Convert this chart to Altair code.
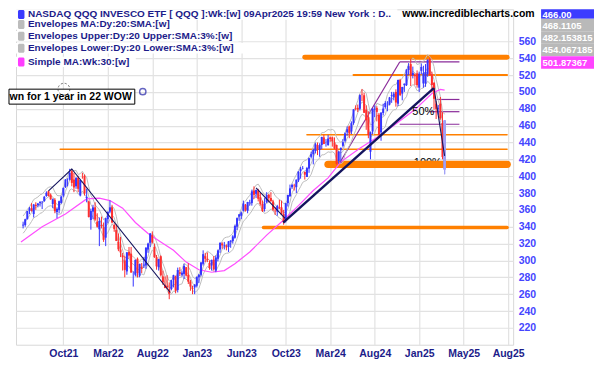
import altair as alt
import pandas as pd

# ---------------- data (weekly QQQ candles, week index 1..200) ----------------
weeks = list(range(1, 201))
opens = [
    341.5, 342, 349, 359, 362, 355, 366, 365.5, 368, 369,
    370.5, 376.5, 382, 378, 367, 372, 357.5, 360, 368, 377,
    387, 395.5, 396, 406, 396, 388, 398, 377, 398, 400.5,
    374, 370, 348, 358, 363, 346, 337, 342, 339, 327,
    349, 358, 363, 342, 336, 322, 313, 306, 300, 287,
    310, 308, 281, 283, 302, 282, 292, 294, 294, 313,
    321, 330, 316, 304, 292, 305, 281, 271, 270, 266,
    266, 277, 281, 265, 286, 283, 284, 292, 283, 275,
    267, 268, 270, 280, 283, 296, 305, 302, 297, 294,
    301, 288, 302, 313, 320, 317, 317, 316, 322, 323,
    327, 340, 352, 353, 359, 366, 359, 368, 368, 383,
    379, 383, 375, 367, 361, 369, 378, 374, 370, 359,
    358, 363, 363, 355, 347, 368, 376, 387, 389, 387,
    395, 406, 409, 405, 399, 409, 423, 426, 430, 437,
    431, 437, 446, 439, 437, 446, 446, 440, 437, 418,
    431, 436, 442, 452, 459, 453, 463, 481, 481, 480,
    497, 496, 479, 470, 429, 453, 479, 481, 473, 452,
    475, 482, 487, 485, 495, 494, 500, 486, 514, 498,
    508, 508, 526, 533, 520, 520, 522, 505, 525, 510,
    510, 521, 539, 521, 511, 486, 480, 486, 463, 408,
]
highs = [
    346, 349.5, 358.8, 363.5, 368, 367, 369, 368.2, 370.5, 370.5,
    376.5, 382, 382.8, 379.5, 373.5, 374, 363, 371, 377, 386.5,
    396.5, 397.5, 408.7, 408.2, 404, 399, 400.5, 396, 404, 402,
    385, 371, 361.5, 366, 369, 356, 351, 352, 345, 350.5,
    358, 371.3, 366, 344, 343, 332, 328, 309, 305, 310,
    316, 316, 287, 301, 303.5, 296, 297, 304, 315.5, 321,
    332.5, 334.5, 320, 306.5, 302, 306, 288, 281, 282.5, 274,
    277, 283, 282, 291.5, 292, 288, 296, 292, 296.7, 277,
    270, 272, 281, 284, 298, 312, 309, 309.5, 300, 301,
    305, 306, 313, 321.5, 321.5, 322, 319, 323, 324, 330,
    342.5, 351, 355, 358, 371, 367, 369.5, 372, 384, 387.9,
    384, 385, 380, 371, 374, 381, 379, 381, 372, 363,
    366, 372, 371, 360, 368, 378, 390, 391, 391, 396,
    406, 411, 412, 405.5, 411, 422, 429, 432.5, 439.8, 440,
    439, 446.6, 449.3, 444, 449, 447, 447, 446, 437.5, 430,
    434, 444, 452, 459, 460, 465, 479.5, 484, 485, 497,
    503.5, 499, 484, 477, 453, 480.5, 484, 483, 475, 476,
    486, 489, 489, 494, 500, 500, 503, 514.5, 515.5, 506,
    510, 526.8, 534, 539.2, 530, 522, 525.5, 524, 533.8, 531,
    533, 538.5, 540.8, 524, 511, 489, 484.5, 494, 476, 466.6,
]
lows = [
    338, 340, 348.5, 355, 358, 351, 360, 363, 364, 361,
    369.5, 375.5, 376, 372, 362, 356, 350, 356, 367.5, 375,
    386, 388, 395, 388, 381, 385, 381, 376, 397, 377,
    369, 351, 336.5, 349, 347, 339, 317, 338, 322, 317,
    344, 356, 344, 334, 323, 311, 304, 288, 280, 283,
    302, 286, 269, 281, 280, 280, 285, 291, 290, 309,
    316, 320, 303, 289, 288, 281, 271, 267, 266, 254,
    264.5, 268, 261, 262, 281.5, 281, 278, 281, 272, 264,
    260, 260, 268, 273, 281, 294, 298, 298, 289, 288,
    288, 286, 299, 309, 314, 313, 312, 310, 315, 320,
    326, 336, 347, 349, 358, 358, 356, 365, 365, 373,
    374, 370, 365, 357.5, 358, 368, 369, 369, 358.5, 354,
    353, 361, 354, 342.4, 345, 364, 376, 385, 383, 380,
    393, 397, 408, 396, 399, 404, 421, 414, 427, 425,
    423, 432, 438, 435, 436, 441, 435, 432, 413.5, 415,
    416, 434, 440, 448, 445, 450, 461, 478, 476, 478,
    489, 475, 455, 445, 420, 450, 470, 465, 448, 442,
    472, 480, 477, 484, 487, 490, 482.5, 483, 495, 490,
    500, 507, 520, 507, 516, 508, 505, 499.7, 521, 505,
    506, 518, 519, 499.7, 479, 467.8, 473, 467, 420, 402.4,
]
closes = [
    342.5, 348.9, 358.6, 361.8, 358.9, 366.3, 364.6, 367.5, 369.3, 369.6,
    375.5, 380.2, 376.6, 372.5, 372.6, 358.6, 361.3, 370.3, 375.8, 386.1,
    396, 395.5, 403.9, 392, 386.6, 397.8, 385, 395.5, 397.9, 379.6,
    375.5, 351.5, 358.7, 362.8, 348.5, 340, 346.8, 340.8, 324.5, 350,
    357.8, 363, 345, 337.5, 323.2, 313.2, 309.5, 303.7, 288.8, 309.6,
    305.8, 285.5, 281, 300.7, 285, 296, 290, 295, 315.2, 320,
    332, 321.5, 304, 293, 301.5, 282.5, 274, 267.3, 268, 260.5,
    276.5, 282.5, 264, 288.7, 284.2, 285.5, 293.5, 282, 274.8, 269,
    266.3, 271, 280.5, 283, 297.6, 307.5, 302, 300.8, 291, 300.6,
    289.5, 303.5, 311.9, 320.9, 317.9, 317.8, 315.5, 322.6, 323.6, 328.5,
    340.9, 350.2, 354.7, 356.9, 367.6, 359.3, 369.4, 368.6, 381.9, 377.9,
    383.7, 373.2, 367, 358.6, 367.5, 377.6, 373.9, 370.6, 360.3, 358.3,
    364.7, 362, 354.6, 345.5, 367.9, 377.7, 385.5, 389.5, 388.6, 395.9,
    405.3, 408.4, 409.5, 401.8, 409.6, 421.3, 426.1, 431.1, 437.9, 432.7,
    436.6, 446.6, 438.3, 439, 444.7, 444, 441.3, 432.7, 414.6, 429,
    433.6, 440.3, 450.7, 455.7, 450.7, 462.9, 479.2, 480.2, 479.1, 496.2,
    496.7, 475.2, 466.4, 448.8, 452.1, 480.2, 480, 476.3, 448.7, 475.3,
    480.2, 486.8, 487.3, 493.4, 496, 498, 487.4, 514.1, 496.2, 505.8,
    509.7, 526.5, 530.5, 518.7, 522.6, 518.6, 508, 521.7, 529.6, 522.3,
    523.6, 538.2, 519.9, 508.2, 491.8, 479.8, 480.8, 468.9, 422.7, 466,
]

# 30-week simple moving average
sma_weeks = [0, 10, 21, 31, 37, 42, 48, 54, 60, 66, 72, 78, 84, 90, 96, 101, 108,
             116, 124, 131, 138, 145, 151, 160, 168, 176, 186, 194, 198, 200]
sma_values = [322, 340, 355, 373, 374, 371, 362, 345, 332, 322, 312, 298, 289, 286, 288,
              296, 310, 330, 348, 365, 383, 398, 417, 433, 446, 460, 479, 498, 503, 502]

x_tick_weeks = [20, 41, 62, 83, 104, 125, 146, 167, 188, 209, 230]
x_tick_labels = ["Oct21", "Mar22", "Aug22", "Jan23", "Jun23", "Oct23",
                 "Mar24", "Aug24", "Jan25", "May25", "Aug25"]
y_tick_values = [220, 240, 260, 280, 300, 320, 340, 360, 380, 400,
                 420, 440, 460, 480, 500, 520, 540, 560]

orange_levels = [541, 520, 449, 432, 414, 339]
orange_from = [134, 157, 135, 18.5, 145, 114.5]
orange_to = [229.5, 229.5, 229.5, 229.5, 229.5, 229.5]

purple_levels = [535.5, 491, 476.5, 461.6]
purple_from = [178.8, 196.3, 192.6, 178.8]
purple_to = [207, 207, 207, 207]

zigzag_seg = ["a", "a", "a", "b", "b", "c", "c"]
zigzag_w = [13, 24, 70.5, 111, 124.7, 195, 200]
zigzag_v = [382.5, 408.5, 262, 386, 350, 504.5, 424]
trend_w = [123.8, 194.9]
trend_v = [345, 504.5]
fib_diag_w = [151, 178.8]
fib_diag_v = [418, 535.5]

legend_labels = [
    "NASDAQ QQQ INVESCO ETF [ QQQ ]:Wk:[w]  09Apr2025 19:59 New York : D..",
    "Envelopes MA:Dy:20:SMA:[w]",
    "Envelopes Upper:Dy:20 Upper:SMA:3%:[w]",
    "Envelopes Lower:Dy:20 Lower:SMA:3%:[w]",
    "Simple MA:Wk:30:[w]",
]
value_labels = ["466.00", "468.1105", "482.153815", "454.067185", "501.87367"]
site_label = "www.incrediblecharts.com"
wow_label = "wn for 1 year in 22 WOW"
fib_labels = ["50%", "100%"]

# ---------------- styling ----------------
FONT = "Liberation Sans"
BLUE = "#3434ff"
RED = "#ff2e2e"
LIVE = "#a3a3f5"
ORANGE = "#ff8000"
PURPLE = "#8a2b9a"
NAVY = "#14145e"
GREY = "#bdbdbd"
PINK = "#ff4dff"
TEXT_NAVY = "#1c1c8a"
VX, VY = 15, 8  # page position of the plot's top-left corner


def px(x):
    return x - VX


def py(y):
    return y - VY


xs = alt.Scale(domain=[0, 230], nice=False, zero=False)
ys = alt.Scale(domain=[200, 598], nice=False, zero=False)
label_expr = "[" + ",".join("'%s'" % s for s in x_tick_labels) + "][round((datum.value-20)/21)]"
xaxis = alt.Axis(values=x_tick_weeks, labelExpr=label_expr, title=None, grid=True, ticks=False,
                 domain=False, labelPadding=4, labelFont=FONT, labelFontSize=10.5,
                 labelFontWeight="bold", labelColor=TEXT_NAVY, gridColor="#e2e2e2",
                 gridWidth=1.2, labelFlush=False, labelOverlap=False)
yaxis = alt.Axis(orient="right", values=y_tick_values, title=None, grid=True, ticks=False,
                 domain=False, labelPadding=5, labelFont=FONT, labelFontSize=10.5,
                 labelFontWeight="bold", labelColor="#4545ff", gridColor="#e2e2e2",
                 gridWidth=1.2, labelAlign="left", labelBaseline="middle")


def X(field):
    return alt.X(field, type="quantitative", scale=xs, axis=xaxis)


def Y(field):
    return alt.Y(field, type="quantitative", scale=ys, axis=yaxis)


candles = pd.DataFrame({"w": weeks, "open": opens, "high": highs, "low": lows, "close": closes})
sma = pd.DataFrame({"w": sma_weeks, "v": sma_values})
orange = pd.DataFrame({"level": orange_levels, "from": orange_from, "to": orange_to})
purple = pd.DataFrame({"level": purple_levels, "from": purple_from, "to": purple_to})
zigzag = pd.DataFrame({"seg": zigzag_seg, "w": zigzag_w, "v": zigzag_v})
trend = pd.DataFrame({"w": trend_w, "v": trend_v})
fibd = pd.DataFrame({"w": fib_diag_w, "v": fib_diag_v})
one = pd.DataFrame({"k": [0]})

layers = []


def text_layer(label, x, y, size=10, color="black", weight="bold", align="left"):
    return alt.Chart(pd.DataFrame({"t": [label]})).mark_text(
        font=FONT, fontSize=size, fontWeight=weight, color=color, align=align, baseline="middle"
    ).encode(x=alt.value(px(x)), y=alt.value(py(y)), text="t:N")


def rect_layer(x1, x2, y1, y2, fill, stroke=None, radius=0):
    kw = dict(fill=fill, cornerRadius=radius)
    if stroke:
        kw.update(stroke=stroke, strokeWidth=1)
    return alt.Chart(one).mark_rect(**kw).encode(
        x=alt.value(px(x1)), x2=alt.value(px(x2)), y=alt.value(py(y1)), y2=alt.value(py(y2)))


# base grid / axes carrier
layers.append(alt.Chart(candles).mark_point(opacity=0).encode(x=X("w"), y=Y("close")))

# "100%" text, partly hidden by the orange band
layers.append(text_layer(fib_labels[1], 413.5, 162, size=11, weight="normal"))

# orange support / resistance lines
ORANGE_WIDTHS = [5, 2, 1.5, 1.5, 7.5, 3.5]
for i, wdt in enumerate(ORANGE_WIDTHS):
    layers.append(
        alt.Chart(orange.iloc[[i]]).mark_rule(color=ORANGE, strokeWidth=wdt, strokeCap="round")
        .encode(x=X("from"), x2="to:Q", y=Y("level"))
    )

# purple fib levels and diagonal
layers.append(alt.Chart(purple).mark_rule(color=PURPLE, strokeWidth=1.2)
              .encode(x=X("from"), x2="to:Q", y=Y("level")))
layers.append(alt.Chart(fibd).mark_line(color=PURPLE, strokeWidth=1.2)
              .encode(x=X("w"), y=Y("v")))

# envelopes (20-day SMA = 4 weeks, +/-3%)
env = alt.Chart(candles).transform_window(
    ma="mean(close)", frame=[-3, 0], sort=[alt.SortField("w")]
).transform_calculate(up="datum.ma*1.03", lo="datum.ma*0.97")
for f in ["ma", "up", "lo"]:
    layers.append(env.mark_line(color=GREY, strokeWidth=1).encode(x=X("w"), y=Y(f)))

# 30 week SMA
layers.append(alt.Chart(sma).mark_line(color=PINK, strokeWidth=1.2).encode(x=X("w"), y=Y("v")))

# candles
col = alt.condition(alt.datum.close >= alt.datum.open, alt.value(BLUE), alt.value(RED))
layers.append(alt.Chart(candles).mark_rule(strokeWidth=1).encode(x=X("w"), y=Y("low"), y2="high:Q", color=col))
layers.append(alt.Chart(candles).mark_bar(size=2).encode(x=X("w"), y=Y("open"), y2="close:Q", color=col))
live = alt.Chart(candles).transform_filter("datum.w == 200")
layers.append(live.mark_rule(strokeWidth=1.2, color=LIVE).encode(x=X("w"), y=Y("low"), y2="high:Q"))
layers.append(live.mark_bar(size=2.6, color=LIVE).encode(x=X("w"), y=Y("open"), y2="close:Q"))

# navy trend and zigzag lines
layers.append(alt.Chart(zigzag).mark_line(color=NAVY, strokeWidth=1.1)
              .encode(x=X("w"), y=Y("v"), detail="seg:N"))
layers.append(alt.Chart(trend).mark_line(color=NAVY, strokeWidth=2.4).encode(x=X("w"), y=Y("v")))

layers.append(text_layer(fib_labels[0], 412, 111, size=11, weight="normal"))

# header legend
row_y = [13.2, 23.2, 35, 47, 60.7]
row_end = [397, 177, 238, 243, 135]
sq_col = ["#3a3aff", "#bcbcbc", "#bcbcbc", "#bcbcbc", "#ff3cff"]
for i, lab in enumerate(legend_labels):
    layers.append(rect_layer(15, row_end[i], row_y[i] - 5.2, row_y[i] + 5.2, "white"))
for i, lab in enumerate(legend_labels):
    layers.append(rect_layer(17, 23.5, row_y[i] - 4.5, row_y[i] + 4.5, sq_col[i], radius=1.5))
    layers.append(text_layer(lab, 27, row_y[i], size=10, color=TEXT_NAVY))

layers.append(text_layer(site_label, 402, 13.2, size=10.5, color="black"))

# value boxes
box_y = [(8, 17.5), (17.5, 30), (30, 42.5), (42.5, 55), (55, 67.5)]
box_col = ["#3c3cff", "#b9b9b9", "#b9b9b9", "#b9b9b9", "#ff44ff"]
for i, lab in enumerate(value_labels):
    y1, y2 = box_y[i]
    layers.append(rect_layer(541, 594, y1, y2, box_col[i]))
    layers.append(text_layer(lab, 542.5, (y1 + y2) / 2 + 0.5, size=9.5, color="white"))

# WOW annotation box
layers.append(rect_layer(8, 134, 88, 103, "white", stroke="black"))
layers.append(text_layer(wow_label, 131, 96, size=10.5, color="black", align="right"))
layers.append(alt.Chart(one).mark_point(shape="circle", size=140, filled=False, color="#333333",
                                        strokeDash=[2, 2], strokeWidth=1)
              .encode(x=alt.value(px(63)), y=alt.value(py(88))))
layers.append(alt.Chart(one).mark_point(shape="circle", size=40, filled=False, color="#2323a8",
                                        strokeWidth=1.4)
              .encode(x=alt.value(px(142)), y=alt.value(py(90.5))))

chart = alt.layer(*layers).properties(
    width=498, height=336,
    padding={"left": 0, "top": 0, "right": 0, "bottom": 0},
).configure_view(stroke="#d8d8d8", strokeWidth=1)

chart.save("out.html", embed_options={"renderer": "svg", "actions": False})
